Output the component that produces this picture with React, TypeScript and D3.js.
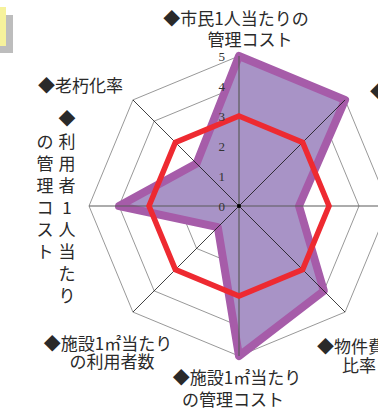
import React, { useEffect, useRef } from 'react';
import * as d3 from 'd3';

// axes clockwise from the top
const categories = [
  '◆市民1人当たりの\n管理コスト',
  '◆',
  '',
  '◆物件費\n比率',
  '◆施設1㎡当たり\nの管理コスト',
  '◆施設1㎡当たり\nの利用者数',
  '◆利用者1人当たり\nの管理コスト',
  '◆老朽化率',
];
const cityValues = [5, 5, 2, 4, 5, 1, 4, 2];
const standardValues = [3, 3, 3, 3, 3, 3, 3, 3];
const tickValues = [0, 1, 2, 3, 4, 5];

// where each category label sits (one entry per line)
const labelLayout = [
  { anchor: 'middle', lines: [[236, 17.5], [250, 38.5]] },
  { anchor: 'start', lines: [[370, 90]] },
  { anchor: 'start', lines: [] },
  { anchor: 'start', lines: [[317, 345], [342, 364]] },
  { anchor: 'middle', lines: [[237, 376.5], [233, 398.5]] },
  { anchor: 'middle', lines: [[108, 342], [112, 360]] },
  { anchor: 'vertical', lines: [[67, 117], [45, 140]] },
  { anchor: 'start', lines: [[38, 84.5]] },
];

const JP_FONT = '"Noto Sans CJK JP", "Noto Sans", sans-serif';

const RadarChart = () => {
  const svgRef = useRef(null);

  useEffect(() => {
    const svg = d3.select(svgRef.current);
    svg.selectAll('*').remove();

    const width = 378;
    const height = 412;
    const cx = 239;
    const cy = 206;
    const radius = 150;
    const n = categories.length;

    svg.attr('width', width).attr('height', height);

    // little box peeking in at top-left
    svg.append('rect').attr('x', 0).attr('y', 15).attr('width', 13).attr('height', 38).style('fill', '#bdbdbd');
    svg.append('rect').attr('x', 0).attr('y', 7).attr('width', 6).attr('height', 39).style('fill', '#f6f29c');

    const r = d3.scaleLinear().domain([0, 5]).range([0, radius]);
    const angle = (i) => (i * 2 * Math.PI) / n;

    const radial = d3.lineRadial()
      .angle((d, i) => angle(i))
      .radius(d => r(d))
      .curve(d3.curveLinearClosed);

    const chart = svg.append('g').attr('transform', `translate(${cx},${cy})`);

    // rings
    tickValues.filter(t => t > 0).forEach(t => {
      chart.append('path')
        .attr('d', radial(categories.map(() => t)))
        .style('fill', 'none')
        .style('stroke', '#8c8c8c')
        .style('stroke-width', 0.9);
    });

    // city series
    chart.append('path')
      .attr('d', radial(cityValues))
      .style('fill', '#a893c6')
      .style('stroke', '#a65ca9')
      .style('stroke-width', 8)
      .style('stroke-linejoin', 'round');

    // spokes
    categories.forEach((c, i) => {
      const a = angle(i);
      const straight = i % 2 === 0;
      chart.append('line')
        .attr('x1', 0).attr('y1', 0)
        .attr('x2', r(5) * Math.sin(a))
        .attr('y2', -r(5) * Math.cos(a))
        .style('stroke', straight ? '#5a5a5a' : '#111')
        .style('stroke-width', straight ? 1.2 : 0.8);
    });
    chart.append('circle').attr('r', 2).style('fill', '#000');

    // standard series
    chart.append('path')
      .attr('d', radial(standardValues))
      .style('fill', 'none')
      .style('stroke', '#ee2a31')
      .style('stroke-width', 5.5)
      .style('stroke-linejoin', 'miter');

    // tick labels
    chart.selectAll('.tick-label')
      .data(tickValues)
      .enter()
      .append('text')
      .attr('class', 'tick-label')
      .attr('x', -14)
      .attr('y', d => -r(d) + 4.5)
      .attr('text-anchor', 'end')
      .style('font-family', '"Liberation Serif", "DejaVu Serif", serif')
      .style('font-size', '13px')
      .style('fill', '#333')
      .text(d => d);

    // category labels
    categories.forEach((label, i) => {
      const layout = labelLayout[i];
      const parts = label.split('\n');
      if (layout.anchor === 'vertical') {
        // vertical text, one character per row, columns right to left
        parts.forEach((part, j) => {
          const [x, y0] = layout.lines[j];
          Array.from(part).forEach((ch, k) => {
            const y = j === 0 && k > 0 ? y0 + 23 + (k - 1) * 22 : y0 + k * 22;
            svg.append('text')
              .attr('x', x)
              .attr('y', y)
              .attr('text-anchor', 'middle')
              .attr('dominant-baseline', 'central')
              .style('font-family', JP_FONT)
              .style('font-size', '17px')
              .style('fill', '#2a2a2a')
              .text(ch);
          });
        });
        return;
      }
      parts.forEach((part, j) => {
        const pos = layout.lines[j];
        if (!pos) return;
        svg.append('text')
          .attr('x', pos[0])
          .attr('y', pos[1])
          .attr('text-anchor', layout.anchor)
          .attr('dominant-baseline', 'central')
          .style('font-family', JP_FONT)
          .style('font-size', '17px')
          .style('fill', '#2a2a2a')
          .text(part);
      });
    });
  }, []);

  return <svg ref={svgRef} style={{ position: 'absolute', left: 0, top: 0, display: 'block' }}></svg>;
};

export default function App() {
  return <RadarChart />;
}
